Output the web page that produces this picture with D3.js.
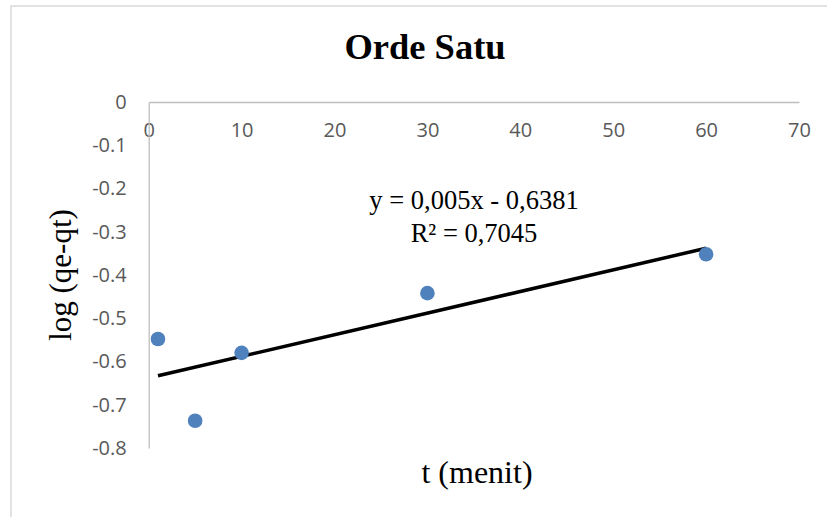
<!DOCTYPE html>
<html>
<head>
<meta charset="utf-8">
<script src="https://cdn.jsdelivr.net/npm/d3@7"></script>
<style>
  body { margin: 0; background: #fff; }
  .tick text { font-family: "Open Sans", sans-serif; font-size: 20px; fill: #595959; }
</style>
</head>
<body>
<div id="chart"></div>
<script>
// data
var times = [1, 5, 10, 30, 60];
var logValues = [-0.548, -0.737, -0.580, -0.442, -0.352];
var xTicks = [0, 10, 20, 30, 40, 50, 60, 70];
var yTicks = [0, -0.1, -0.2, -0.3, -0.4, -0.5, -0.6, -0.7, -0.8];
var trendSlope = 0.005;
var trendIntercept = -0.6381;
var trendRange = [1, 60];
var equationLines = ["y = 0,005x - 0,6381", "R² = 0,7045"];

var width = 827, height = 517;
var plot = { left: 148.7, right: 799, top: 102, bottom: 448 };

var svg = d3.select("#chart").append("svg")
    .attr("width", width)
    .attr("height", height);

// chart border
svg.append("rect")
    .attr("x", 11)
    .attr("y", 6)
    .attr("width", width)
    .attr("height", height)
    .style("fill", "none")
    .style("stroke", "#d9d9d9")
    .style("stroke-width", 1.5);

var x = d3.scaleLinear().domain([0, 70]).range([plot.left, plot.right]);
var y = d3.scaleLinear().domain([-0.8, 0]).range([plot.bottom, plot.top]);

// x axis sits on y = 0 (top), labels below it
var xAxis = d3.axisBottom(x).tickValues(xTicks).tickSize(0).tickPadding(21)
    .tickFormat(d3.format("d"));
svg.append("g")
    .attr("class", "axis axis--x")
    .attr("transform", "translate(0," + y(0) + ")")
    .call(xAxis)
    .call(function(g) {
      g.select(".domain").attr("stroke", "#bfbfbf").attr("stroke-width", 1.3);
    });

var yAxis = d3.axisLeft(y).tickValues(yTicks).tickSize(0).tickPadding(22)
    .tickFormat(function(d) { return d === 0 ? "0" : d3.format(".1f")(d).replace("−", "-"); });
svg.append("g")
    .attr("class", "axis axis--y")
    .attr("transform", "translate(" + x(0) + ",0)")
    .call(yAxis)
    .call(function(g) {
      g.select(".domain").attr("stroke", "#bfbfbf").attr("stroke-width", 1.3);
    });

// trendline
var line = d3.line()
    .x(function(d) { return x(d); })
    .y(function(d) { return y(trendSlope * d + trendIntercept); });
svg.append("path")
    .datum(trendRange)
    .attr("d", line)
    .style("fill", "none")
    .style("stroke", "#000")
    .style("stroke-width", 3.5);

// points
svg.selectAll(".dot")
    .data(times)
    .enter().append("circle")
    .attr("class", "dot")
    .attr("cx", function(d) { return x(d); })
    .attr("cy", function(d, i) { return y(logValues[i]); })
    .attr("r", 7.3)
    .style("fill", "#4f81bd");

// titles
svg.append("text")
    .attr("x", 425)
    .attr("y", 59)
    .attr("text-anchor", "middle")
    .style("font-family", "'Liberation Serif', serif")
    .style("font-weight", "bold")
    .style("font-size", "36.5px")
    .text("Orde Satu");

svg.append("text")
    .attr("x", 477)
    .attr("y", 483)
    .attr("text-anchor", "middle")
    .style("font-family", "'Liberation Serif', serif")
    .style("font-size", "32px")
    .text("t (menit)");

svg.append("text")
    .attr("transform", "translate(71,275) rotate(-90)")
    .attr("text-anchor", "middle")
    .style("font-family", "'Liberation Serif', serif")
    .style("font-size", "31px")
    .text("log (qe-qt)");

svg.selectAll(".eq")
    .data(equationLines)
    .enter().append("text")
    .attr("class", "eq")
    .attr("x", 474)
    .attr("y", function(d, i) { return 209 + i * 33; })
    .attr("text-anchor", "middle")
    .style("font-family", "'Liberation Serif', serif")
    .style("font-size", "26.5px")
    .text(function(d) { return d; });
</script>
</body>
</html>
